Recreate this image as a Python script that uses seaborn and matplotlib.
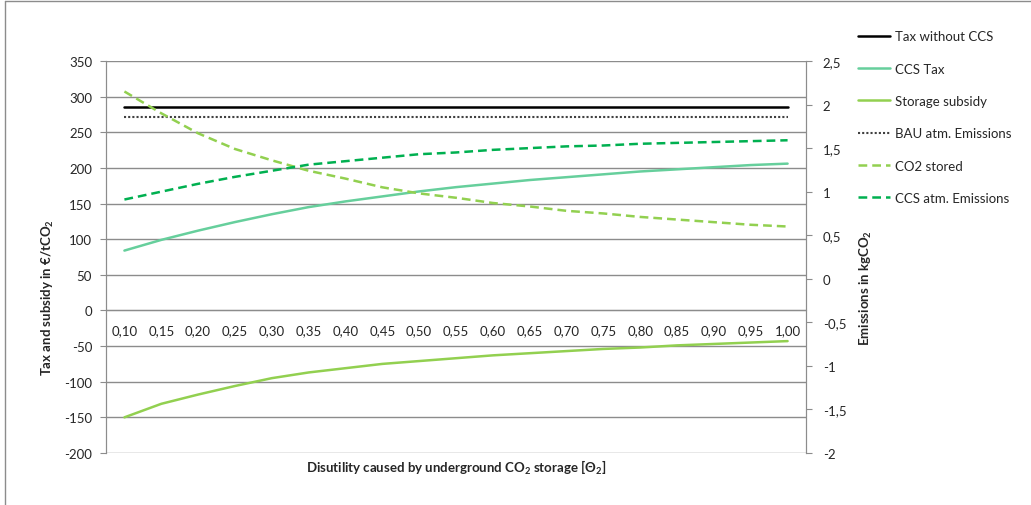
import numpy as np
import pandas as pd
import matplotlib
matplotlib.use("Agg")
import matplotlib.pyplot as plt
from matplotlib.lines import Line2D
from matplotlib.ticker import FuncFormatter, MultipleLocator, FixedLocator
import seaborn as sns

# Values
theta_labels = ["0,10", "0,15", "0,20", "0,25", "0,30", "0,35", "0,40", "0,45", "0,50", "0,55",
                "0,60", "0,65", "0,70", "0,75", "0,80", "0,85", "0,90", "0,95", "1,00"]
tax_without_ccs = [285, 285, 285, 285, 285, 285, 285, 285, 285, 285,
                   285, 285, 285, 285, 285, 285, 285, 285, 285]
ccs_tax = [84, 99, 112, 124, 135, 145, 153, 160, 167, 173,
           178, 183, 187, 191, 195, 198, 201, 204, 206]
storage_subsidy = [-150, -131, -118, -106, -95, -87, -81, -75, -71, -67,
                   -63, -60, -57, -54, -52, -49, -47, -45, -43]
bau_emissions = [1.86, 1.86, 1.86, 1.86, 1.86, 1.86, 1.86, 1.86, 1.86, 1.86,
                 1.86, 1.86, 1.86, 1.86, 1.86, 1.86, 1.86, 1.86, 1.86]
co2_stored = [2.15, 1.90, 1.67, 1.49, 1.36, 1.24, 1.15, 1.05, 0.98, 0.93,
              0.87, 0.83, 0.78, 0.75, 0.71, 0.68, 0.65, 0.62, 0.60]
ccs_atm_emissions = [0.91, 1.00, 1.09, 1.17, 1.24, 1.31, 1.35, 1.39, 1.43, 1.45,
                     1.48, 1.50, 1.52, 1.53, 1.55, 1.56, 1.57, 1.58, 1.59]

sns.set_style("white")
plt.rcParams["font.family"] = ["Lato", "DejaVu Sans"]
plt.rcParams["mathtext.fontset"] = "custom"
plt.rcParams["mathtext.rm"] = "Lato"
plt.rcParams["axes.unicode_minus"] = False

grid_col = "#8c8c8c"
fs = 9.5

fig = plt.figure(figsize=(10.31, 5.06), dpi=100)
ax = fig.add_axes([106 / 1031, 1 - 454 / 506, 700 / 1031, 392 / 506])
ax2 = ax.twinx()

left_df = pd.DataFrame({"theta": theta_labels, "Tax without CCS": tax_without_ccs,
                        "CCS Tax": ccs_tax, "Storage subsidy": storage_subsidy})
right_df = pd.DataFrame({"theta": theta_labels, "BAU atm. Emissions": bau_emissions,
                         "CO2 stored": co2_stored, "CCS atm. Emissions": ccs_atm_emissions})

sns.lineplot(data=left_df, x="theta", y="Tax without CCS", ax=ax, color="black", lw=1.8)
sns.lineplot(data=left_df, x="theta", y="CCS Tax", ax=ax, color="#66cf9c", lw=1.8)
sns.lineplot(data=left_df, x="theta", y="Storage subsidy", ax=ax, color="#92d050", lw=1.8)
sns.lineplot(data=right_df, x="theta", y="BAU atm. Emissions", ax=ax2, color="#404040",
             lw=1.5, linestyle=(0, (1, 1)))
sns.lineplot(data=right_df, x="theta", y="CO2 stored", ax=ax2, color="#92d050",
             lw=1.8, linestyle=(0, (3.5, 2)))
sns.lineplot(data=right_df, x="theta", y="CCS atm. Emissions", ax=ax2, color="#00b050",
             lw=1.8, linestyle=(0, (3.5, 2)))

# left axis
ax.set_ylim(-200, 350)
ax.yaxis.set_major_locator(MultipleLocator(50))
ax.grid(axis="y", color=grid_col, lw=1)
ax.grid(axis="x", visible=False)
ax.set_xlim(-0.5, len(theta_labels) - 0.5)
ax.set_ylabel("Tax and subsidy in €/tCO$\\mathregular{_2}$", fontsize=fs, fontweight="bold")
ax.yaxis.set_label_coords(-(106 - 56) / 700, (454 - 298) / 392)
ax.set_xlabel("Disutility caused by underground CO$\\mathregular{_2}$ storage [Θ$\\mathregular{_2}$]",
              fontsize=fs, fontweight="bold")
ax.xaxis.set_label_coords(0.5, -(459 - 454) / 392)

# x axis at y = 0, ticks between categories
ax.spines["bottom"].set_position(("data", 0))
ax.xaxis.set_minor_locator(FixedLocator(np.arange(-0.5, len(theta_labels), 1)))
ax.tick_params(axis="x", which="major", length=0, labelsize=fs, pad=10)
ax.tick_params(axis="x", which="minor", length=4, color=grid_col, direction="out")
ax.tick_params(axis="y", length=4, color=grid_col, labelsize=fs, left=True, pad=6)

for a in (ax, ax2):
    a.spines["top"].set_visible(False)
    for s in ("left", "right", "bottom"):
        a.spines[s].set_color(grid_col)
ax2.spines["bottom"].set_visible(False)

# right axis
ax2.set_ylim(-2, 2.5)
ax2.yaxis.set_major_locator(MultipleLocator(0.5))
ax2.yaxis.set_major_formatter(FuncFormatter(lambda v, p: ("%g" % v).replace(".", ",")))
ax2.tick_params(axis="y", length=4, color=grid_col, labelsize=fs, right=True, pad=8)
ax2.grid(False)
ax2.set_ylabel("Emissions in kgCO$\\mathregular{_2}$", fontsize=fs, fontweight="bold")
ax2.yaxis.set_label_coords(1 + (858 - 806) / 700, (454 - 288) / 392)

# legend
handles = [
    Line2D([], [], color="black", lw=1.8),
    Line2D([], [], color="#66cf9c", lw=1.8),
    Line2D([], [], color="#92d050", lw=1.8),
    Line2D([], [], color="#404040", lw=1.5, linestyle=(0, (1, 1))),
    Line2D([], [], color="#92d050", lw=1.8, linestyle=(0, (3.5, 2))),
    Line2D([], [], color="#00b050", lw=1.8, linestyle=(0, (3.5, 2))),
]
labels = ["Tax without CCS", "CCS Tax", "Storage subsidy", "BAU atm. Emissions",
          "CO2 stored", "CCS atm. Emissions"]
fig.legend(handles, labels, loc="upper left", bbox_to_anchor=(853 / 1031, 1 - 26 / 506),
           frameon=False, fontsize=fs, handlelength=2.4, handletextpad=0.4,
           labelspacing=1.54, borderaxespad=0)

# outer chart frame (top and left edges visible)
fig.add_artist(Line2D([5 / 1031, 5 / 1031], [0, 1 - 2 / 506], color=grid_col, lw=1))
fig.add_artist(Line2D([5 / 1031, 1], [1 - 2 / 506, 1 - 2 / 506], color=grid_col, lw=1))

fig.savefig("out.png", dpi=100)
